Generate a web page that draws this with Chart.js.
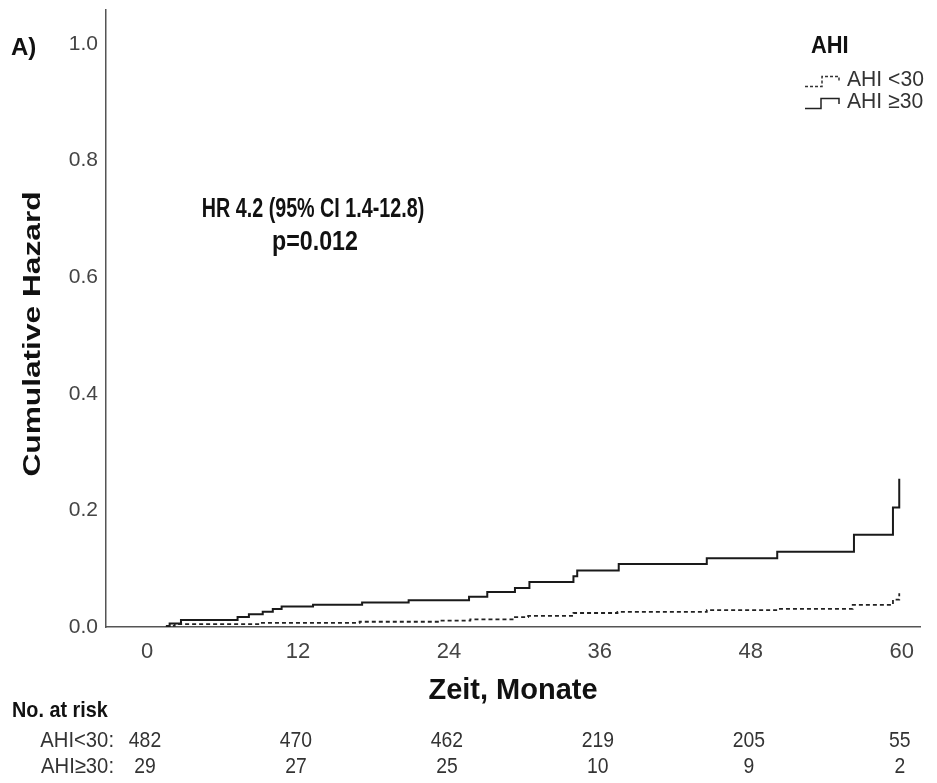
<!DOCTYPE html>
<html>
<head>
<meta charset="utf-8">
<title>Cumulative Hazard AHI</title>
<script src="https://cdn.jsdelivr.net/npm/chart.js@4.4.1/dist/chart.umd.min.js"></script>
<style>
  html, body { margin: 0; padding: 0; background: #fff; }
  #hazardChart { display: block; }
</style>
</head>
<body>
<canvas id="hazardChart" width="937" height="783"></canvas>
<script>
// cumulative hazard, AHI < 30 (months / hazard)
const monthsLow = [1.5, 2.2, 9.0, 16.9, 23.3, 25.7, 29.25, 30.3, 33.9, 37.4, 44.5, 50.1, 56.1, 59.3, 59.8];
const hazardLow = [0.002, 0.005, 0.007, 0.009, 0.011, 0.013, 0.017, 0.019, 0.024, 0.026, 0.029, 0.031, 0.038, 0.047, 0.058];

// cumulative hazard, AHI >= 30
const monthsHigh = [1.5, 1.8, 2.7, 7.2, 8.1, 9.2, 10.0, 10.7, 13.2, 17.1, 20.8, 25.6, 27.05, 29.25, 30.4, 33.9, 34.2, 37.5, 44.5, 50.1, 56.2, 59.3, 59.8];
const hazardHigh = [0, 0.006, 0.012, 0.017, 0.022, 0.026, 0.031, 0.035, 0.038, 0.042, 0.046, 0.052, 0.060, 0.067, 0.077, 0.087, 0.097, 0.108, 0.118, 0.129, 0.158, 0.205, 0.254];

const xTicks = [0, 12, 24, 36, 48, 60];
const yTicks = [0, 0.2, 0.4, 0.6, 0.8, 1.0];

// numbers at risk at each x tick
const riskLabels = ['AHI<30:', 'AHI\u226530:'];
const atRiskLow = [482, 470, 462, 219, 205, 55];
const atRiskHigh = [29, 27, 25, 10, 9, 2];

const toPoints = (xs, ys) => xs.map((x, i) => ({ x: x, y: ys[i] }));

// narrow text helper: sx < 1 squeezes glyphs horizontally
function drawText(ctx, str, x, y, font, align, sx, color) {
  ctx.save();
  ctx.translate(x, y);
  ctx.scale(sx, 1);
  ctx.font = font;
  ctx.fillStyle = color || '#111';
  ctx.textAlign = align;
  ctx.textBaseline = 'middle';
  ctx.fillText(str, 0, 0);
  ctx.restore();
}

const annotations = {
  id: 'annotations',
  afterDraw(chart) {
    const ctx = chart.ctx;
    const xs = chart.scales.x;

    // panel letter and y title
    drawText(ctx, 'A)', 11, 48, 'bold 24px "Liberation Sans", Arial', 'left', 1, '#111');
    ctx.save();
    ctx.translate(33, 334);
    ctx.rotate(-Math.PI / 2);
    ctx.scale(1.32, 1);
    ctx.font = 'bold 24px "Liberation Sans", Arial';
    ctx.fillStyle = '#111';
    ctx.textAlign = 'center';
    ctx.textBaseline = 'middle';
    ctx.fillText('Cumulative Hazard', 0, 0);
    ctx.restore();

    // hazard ratio
    drawText(ctx, 'HR 4.2 (95% CI 1.4-12.8)', 313, 210, 'bold 27px "Liberation Sans", Arial', 'center', 0.73, '#111');
    drawText(ctx, 'p=0.012', 315, 243, 'bold 27px "Liberation Sans", Arial', 'center', 0.86, '#111');

    // legend
    drawText(ctx, 'AHI', 811, 47, 'bold 23px "Liberation Sans", Arial', 'left', 0.95, '#111');
    drawText(ctx, 'AHI <30', 847, 80, '22px "Liberation Sans", Arial', 'left', 0.96, '#333');
    drawText(ctx, 'AHI \u226530', 847, 102, '22px "Liberation Sans", Arial', 'left', 0.96, '#333');
    ctx.save();
    ctx.strokeStyle = '#333';
    ctx.lineWidth = 1.5;
    ctx.setLineDash([3, 2]);
    ctx.beginPath();
    ctx.moveTo(805, 86.5);
    ctx.lineTo(822, 86.5);
    ctx.lineTo(822, 76.5);
    ctx.lineTo(839, 76.5);
    ctx.lineTo(839, 82);
    ctx.stroke();
    ctx.setLineDash([]);
    ctx.strokeStyle = '#222';
    ctx.beginPath();
    ctx.moveTo(805, 108.5);
    ctx.lineTo(821, 108.5);
    ctx.lineTo(821, 98.5);
    ctx.lineTo(839, 98.5);
    ctx.lineTo(839, 104);
    ctx.stroke();
    ctx.restore();

    // numbers at risk
    drawText(ctx, 'No. at risk', 12, 711, 'bold 22px "Liberation Sans", Arial', 'left', 0.9, '#111');
    const rows = [atRiskLow, atRiskHigh];
    rows.forEach((row, r) => {
      const y = 741 + r * 26;
      drawText(ctx, riskLabels[r], 114, y, '22px "Liberation Sans", Arial', 'right', 0.92, '#333');
      row.forEach((n, i) => {
        drawText(ctx, String(n), xs.getPixelForValue(xTicks[i]) - 2, y, '22px "Liberation Sans", Arial', 'center', 0.88, '#333');
      });
    });
  }
};

new Chart(document.getElementById('hazardChart'), {
  type: 'line',
  data: {
    datasets: [
      {
        label: 'AHI <30',
        data: toPoints(monthsLow, hazardLow),
        borderColor: '#222',
        borderWidth: 1.8,
        borderDash: [4, 3],
        stepped: 'before',
        pointRadius: 0,
        fill: false
      },
      {
        label: 'AHI \u226530',
        data: toPoints(monthsHigh, hazardHigh),
        borderColor: '#1a1a1a',
        borderWidth: 2,
        stepped: 'before',
        pointRadius: 0,
        fill: false
      }
    ]
  },
  options: {
    responsive: false,
    animation: false,
    layout: { padding: { top: 10, right: 17, left: 0, bottom: 0 } },
    plugins: {
      legend: { display: false },
      tooltip: { enabled: false }
    },
    scales: {
      x: {
        type: 'linear',
        min: -3.26,
        max: 61.45,
        afterFit: scale => {
          scale.height = 156;
          scale.paddingLeft = 0;
          scale.paddingRight = 0;
        },
        afterBuildTicks: scale => { scale.ticks = xTicks.map(v => ({ value: v })); },
        grid: { display: false, drawTicks: false },
        border: { display: true, color: '#555', width: 1.5 },
        ticks: {
          padding: 12,
          color: '#444',
          font: { family: '"Liberation Sans", Arial', size: 22 },
          callback: v => String(v)
        },
        title: {
          display: true,
          text: 'Zeit, Monate',
          color: '#111',
          font: { family: '"Liberation Sans", Arial', weight: 'bold', size: 29 },
          padding: { top: 0, bottom: 75 }
        }
      },
      y: {
        min: 0,
        max: 1.058,
        afterFit: scale => {
          scale.width = 106;
          scale.paddingTop = 0;
          scale.paddingBottom = 0;
        },
        afterBuildTicks: scale => { scale.ticks = yTicks.map(v => ({ value: v })); },
        grid: { display: false, drawTicks: false },
        border: { display: true, color: '#555', width: 1.5 },
        ticks: {
          padding: 8,
          color: '#444',
          font: { family: '"Liberation Sans", Arial', size: 21 },
          callback: v => v.toFixed(1)
        }
      }
    }
  },
  plugins: [annotations]
});
</script>
</body>
</html>
